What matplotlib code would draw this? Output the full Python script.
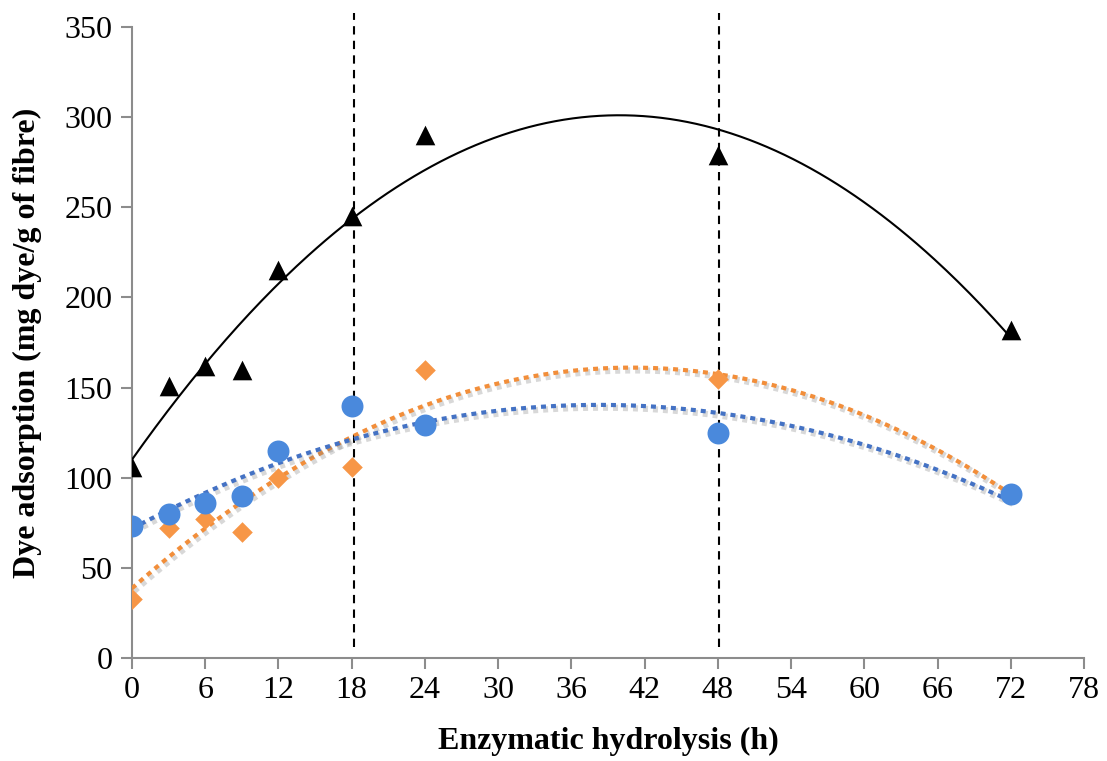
import numpy as np
import matplotlib.pyplot as plt
import matplotlib.patheffects as pe

plt.rcParams['font.family'] = ['Liberation Serif', 'DejaVu Serif']

# hydrolysis time (h)
hours = [0, 3, 6, 9, 12, 18, 24, 48, 72]
# dye adsorption (mg dye/g of fibre)
black_tri = [106, 151, 162, 160, 215, 245, 290, 279, 182]
blue_circ = [73, 80, 86, 90, 115, 140, 129, 125, 91]
orange_dia = [33, 72, 77, 70, 100, 106, 160, 155, 91]
vlines = [18.2, 48.1]

fig = plt.figure(figsize=(11.07, 7.61), dpi=100)
ax = fig.add_axes([0.1192, 0.1353, 0.8600, 0.8292])

x = np.array(hours, dtype=float)
xs = np.linspace(0, 72, 300)
shadow = [pe.SimpleLineShadow(offset=(1.5, -2), shadow_color='gray', alpha=0.3, linewidth=4.5), pe.Normal()]

# polynomial (order 2) trendlines
p_blue = np.poly1d(np.polyfit(x, blue_circ, 2))
p_orange = np.poly1d(np.polyfit(x, orange_dia, 2))
p_black = np.poly1d(np.polyfit(x, black_tri, 2))

ax.plot(xs, p_orange(xs), color='#F28E3A', lw=3, ls=(0, (1.2, 1.2)), dash_capstyle='butt', path_effects=shadow, zorder=3)
ax.plot(xs, p_blue(xs), color='#4472C4', lw=3, ls=(0, (1.2, 1.2)), dash_capstyle='butt', path_effects=shadow, zorder=3)
ax.plot(xs, p_black(xs), color='black', lw=1.5, zorder=3)

ax.scatter(hours, orange_dia, marker='D', s=110, color='#F79646', zorder=4, linewidths=0)
ax.scatter(hours, blue_circ, marker='o', s=250, color='#4A89DC', zorder=5, linewidths=0)
ax.scatter(hours, black_tri, marker='^', s=200, color='black', zorder=6, linewidths=0)

for v in vlines:
    ax.plot([v, v], [6, 358], color='black', lw=1.5, ls=(0, (4, 3)), clip_on=False, zorder=2)

ax.set_xlim(0, 78)
ax.set_ylim(0, 350)
ax.set_xticks(np.arange(0, 79, 6))
ax.set_yticks(np.arange(0, 351, 50))
for s in ['top', 'right']:
    ax.spines[s].set_visible(False)
for s in ['left', 'bottom']:
    ax.spines[s].set_color('#8c8c8c')
    ax.spines[s].set_linewidth(1.5)
ax.tick_params(axis='both', colors='#8c8c8c', length=8, width=1.5, labelsize=23, labelcolor='black')
ax.tick_params(axis='x', pad=5)
ax.tick_params(axis='y', pad=6)

ax.set_xlabel('Enzymatic hydrolysis (h)', fontsize=23, fontweight='bold', labelpad=16)
ax.set_ylabel('Dye adsorption (mg dye/g of fibre)', fontsize=23, fontweight='bold', labelpad=16)

fig.savefig('out.png', dpi=100)
